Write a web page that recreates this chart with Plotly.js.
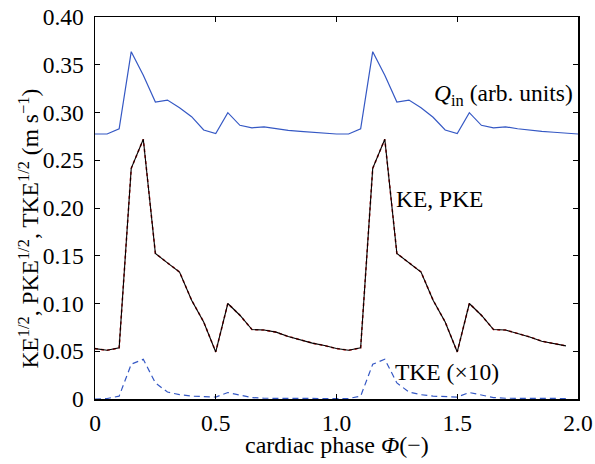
<!DOCTYPE html>
<html>
<head>
<meta charset="utf-8">
<script src="https://cdn.plot.ly/plotly-3.0.1.min.js"></script>
<style>html,body{margin:0;padding:0;background:#fff;}#chart{width:595px;height:464px;}</style>
</head>
<body>
<div id="chart"></div>
<script>
// cardiac phase (two cycles, step 0.05)
const phase = [0,0.05,0.1,0.15,0.2,0.25,0.3,0.35,0.4,0.45,0.5,0.55,0.6,0.65,0.7,0.75,0.8,0.85,0.9,0.95,
               1.0,1.05,1.1,1.15,1.2,1.25,1.3,1.35,1.4,1.45,1.5,1.55,1.6,1.65,1.7,1.75,1.8,1.85,1.9,1.95,2.0];
// inflow rate Q_in (arb. units)
const qin = [0.2775,0.2775,0.283,0.3637,0.339,0.311,0.313,0.305,0.2956,0.2817,0.278,0.2998,0.2866,0.284,0.285,0.283,0.2812,0.2802,0.2793,0.2785,
             0.2775,0.2775,0.283,0.3637,0.339,0.311,0.313,0.305,0.295,0.2817,0.278,0.2998,0.2866,0.284,0.285,0.283,0.2812,0.2802,0.2793,0.2785,0.2775];
// KE^1/2 (m/s)
const ke = [0.0528,0.051,0.0535,0.2415,0.272,0.1524,0.1426,0.133,0.1035,0.0807,0.0493,0.100,0.0877,0.0727,0.0722,0.0700,0.0655,0.0617,0.0585,0.056,
            0.0528,0.051,0.0535,0.2415,0.272,0.1524,0.1426,0.133,0.1035,0.0807,0.0493,0.100,0.0877,0.0727,0.0722,0.0690,0.0650,0.0605,0.0580,0.0556];
// PKE^1/2 (m/s), coincides with KE
const pke = ke.slice();
// TKE^1/2 x10 (m/s)
const tke = [0,0.0005,0.003,0.0364,0.0416,0.0168,0.0073,0.0045,0.003,0.0025,0.002,0.0068,0.004,0.0015,0.0008,0.0006,0.0005,0.0005,0.0005,0.0005,
             0.0005,0.0005,0.003,0.0364,0.0416,0.0168,0.0073,0.0045,0.003,0.0025,0.002,0.0068,0.004,0.0015,0.0008,0.0006,0.0005,0.0005,0.0005,0.0005];

const xTicks = [0,0.5,1.0,1.5,2.0];
const xTickText = ['0','0.5','1.0','1.5','2.0'];
const yTicks = [0,0.05,0.10,0.15,0.20,0.25,0.30,0.35,0.40];
const yTickText = ['0','0.05','0.10','0.15','0.20','0.25','0.30','0.35','0.40'];

const xTitle = 'cardiac phase <i>Φ</i>(−)';
const yTitle = 'KE<sup>1/2</sup>, PKE<sup>1/2</sup>, TKE<sup>1/2</sup> (m s<sup>−1</sup>)';

const serif = "'Liberation Serif', 'Times New Roman', serif";
const blue = '#3558c4';
const fs = 23.5;

const traces = [
  {x: phase, y: qin, mode: 'lines', line: {color: blue, width: 1.2}, hoverinfo: 'skip'},
  {x: phase.slice(0, pke.length), y: pke, mode: 'lines', line: {color: '#d02020', width: 1.6, dash: 'dot'}, hoverinfo: 'skip'},
  {x: phase.slice(0, ke.length), y: ke, mode: 'lines', line: {color: '#000000', width: 1.1}, hoverinfo: 'skip'},
  {x: phase.slice(0, tke.length), y: tke, mode: 'lines', line: {color: blue, width: 1.2, dash: '6px,4px'}, hoverinfo: 'skip'}
];

const layout = {
  width: 595, height: 464,
  margin: {l: 94.5, r: 17, t: 17, b: 65},
  paper_bgcolor: '#ffffff', plot_bgcolor: '#ffffff',
  showlegend: false,
  font: {family: serif, size: fs, color: '#000'},
  xaxis: {
    range: [0, 2.0], tickvals: xTicks, ticktext: xTickText,
    ticks: 'inside', ticklen: 5, tickwidth: 1, tickcolor: '#000',
    showline: true, linecolor: '#000', linewidth: 1.5, mirror: 'ticks',
    showgrid: false, zeroline: false, ticklabelstandoff: 2,
    tickfont: {family: serif, size: fs, color: '#000'}
  },
  yaxis: {
    range: [0, 0.40], tickvals: yTicks, ticktext: yTickText,
    ticks: 'inside', ticklen: 5, tickwidth: 1, tickcolor: '#000',
    showline: true, linecolor: '#000', linewidth: 1.5, mirror: 'ticks',
    showgrid: false, zeroline: false, ticklabelstandoff: 5,
    tickfont: {family: serif, size: fs, color: '#000'}
  },
  annotations: [
    {x: 0.5, y: -0.12, xref: 'paper', yref: 'paper', xanchor: 'center', yanchor: 'middle', showarrow: false,
     text: xTitle, font: {family: serif, size: 24, color: '#000'}},
    {x: -0.1375, y: 0.445, xref: 'paper', yref: 'paper', xanchor: 'center', yanchor: 'middle', showarrow: false,
     textangle: -90, text: yTitle, font: {family: serif, size: 23.5, color: '#000'}},
    {x: 1.397, y: 0.318, xref: 'x', yref: 'y', xanchor: 'left', yanchor: 'middle', showarrow: false,
     text: '<i>Q</i><sub>in</sub> (arb. units)', font: {family: serif, size: fs, color: '#000'}},
    {x: 1.24, y: 0.209, xref: 'x', yref: 'y', xanchor: 'left', yanchor: 'middle', showarrow: false,
     text: 'KE, PKE', font: {family: serif, size: fs, color: '#000'}},
    {x: 1.236, y: 0.028, xref: 'x', yref: 'y', xanchor: 'left', yanchor: 'middle', showarrow: false,
     text: 'TKE (×10)', font: {family: serif, size: fs, color: '#000'}}
  ]
};

Plotly.newPlot('chart', traces, layout, {staticPlot: true, displayModeBar: false});
</script>
</body>
</html>
